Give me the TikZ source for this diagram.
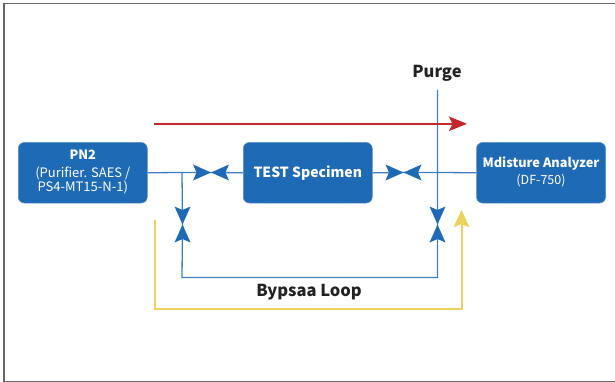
\documentclass[tikz,border=0pt]{standalone}
\usepackage{fontspec}
\setmainfont{Noto Sans CJK SC}
\usetikzlibrary{backgrounds,arrows.meta}
\definecolor{boxblue}{HTML}{1F6AB5}
\definecolor{pipeblue}{HTML}{3D7FC1}
\definecolor{flowred}{HTML}{C4272E}
\definecolor{flowyellow}{HTML}{EBD25A}
\definecolor{framegrey}{HTML}{666666}
\definecolor{labeldark}{HTML}{222222}
\newcommand{\tfont}{\fontsize{12.8}{19.5}\selectfont\bfseries}
\newcommand{\sfont}{\fontsize{13}{14.5}\selectfont}
\tikzset{
  unitbox/.style={fill=boxblue,draw=boxblue!75!white,line width=0.5pt,rounded corners=6pt,text=white,minimum width=129pt,minimum height=60.5pt,inner sep=0pt,align=center},
  bigtext/.style={font=\fontsize{16.5}{19}\selectfont\bfseries,text=labeldark,inner sep=0pt},
  pipe/.style={draw=pipeblue,line width=1.3pt},
  redflow/.style={draw=flowred,line width=2pt},
  yellowflow/.style={draw=flowyellow,line width=2pt},
  valvehoriz/.style={minimum width=36pt,minimum height=16pt,inner sep=0pt,path picture={
    \fill[boxblue] (path picture bounding box.north west) -- (path picture bounding box.center)
      -- (path picture bounding box.south west) -- ([xshift=3.5pt]path picture bounding box.west) -- cycle;
    \fill[boxblue] (path picture bounding box.north east) -- (path picture bounding box.center)
      -- (path picture bounding box.south east) -- ([xshift=-3.5pt]path picture bounding box.east) -- cycle;}},
  valvevert/.style={minimum width=16pt,minimum height=36pt,inner sep=0pt,path picture={
    \fill[boxblue] (path picture bounding box.north west) -- (path picture bounding box.center)
      -- (path picture bounding box.north east) -- ([yshift=-3.5pt]path picture bounding box.north) -- cycle;
    \fill[boxblue] (path picture bounding box.south west) -- (path picture bounding box.center)
      -- (path picture bounding box.south east) -- ([yshift=3.5pt]path picture bounding box.south) -- cycle;}},
}
\begin{document}
\begin{tikzpicture}[x=1pt,y=-1pt]
\useasboundingbox (0,0) rectangle (615,382);
% frame
\draw[framegrey,line width=1.2pt] (615,3.5) -- (3.5,3.5);
\draw[framegrey,line width=2pt] (3.5,2.9) -- (3.5,382);
\draw[framegrey,line width=1.2pt] (3.5,381.5) -- (615,381.5);
% boxes
\node[unitbox] (pn2) at (82.75,172.75) {\raisebox{-2pt}{\begin{tabular}{@{}c@{}}\tfont PN2\\[4pt]\sfont (Purifier. SAES /\\\sfont PS4-MT15-N-1)\end{tabular}}};
\node[unitbox,font=\fontsize{14}{17}\selectfont\bfseries] (test) at (307.75,172.75) {TEST Specimen};
\node[unitbox] (ana) at (541,172.75) {\begin{tabular}{@{}c@{}}\tfont Mdisture Analyzer\\[3pt]\fontsize{12.5}{14.5}\selectfont (DF-750)\end{tabular}};
% valves
\node[valvehoriz] (v1) at (211,172.5) {};
\node[valvehoriz] (v3) at (403.5,172.5) {};
\node[valvevert] (v2) at (182.5,224.5) {};
\node[valvevert] (v4) at (437.5,224.5) {};
% labels
\node[bigtext] (purge) at (437,73) {Purge};
\node[bigtext] (loop) at (309,292) {Bypsaa Loop};
% junctions and free ends
\coordinate (j1) at (182,172.5);
\coordinate (j2) at (437.5,172.5);
\coordinate (purgeend) at (437.5,90);
\coordinate (lb) at (182,277.5);
\coordinate (rb) at (437.5,277.5);
\coordinate (redstart) at (154,123.8);
\coordinate (redend) at (467,123.8);
\coordinate (ystart) at (155,220);
\coordinate (yb1) at (155,308.5);
\coordinate (yb2) at (461.5,308.5);
\coordinate (yend) at (461.5,210);
\begin{scope}[on background layer]
\draw[pipe] (pn2.east) -- (j1) -- (v1.center) -- (test.west);
\draw[pipe] (test.east) -- (v3.center) -- (j2) -- (ana.west);
\draw[pipe] (j1) -- (v2.center) -- (lb) -- (rb) -- (v4.center) -- (j2) -- (purgeend);
\end{scope}
\draw[redflow,-{Stealth[length=18pt,width=14.5pt,inset=3.5pt]}] (redstart) -- (redend);
\draw[yellowflow,-{Stealth[length=17pt,width=15.5pt,inset=3pt]}] (ystart) -- (yb1) -- (yb2) -- (yend);
\end{tikzpicture}
\end{document}
